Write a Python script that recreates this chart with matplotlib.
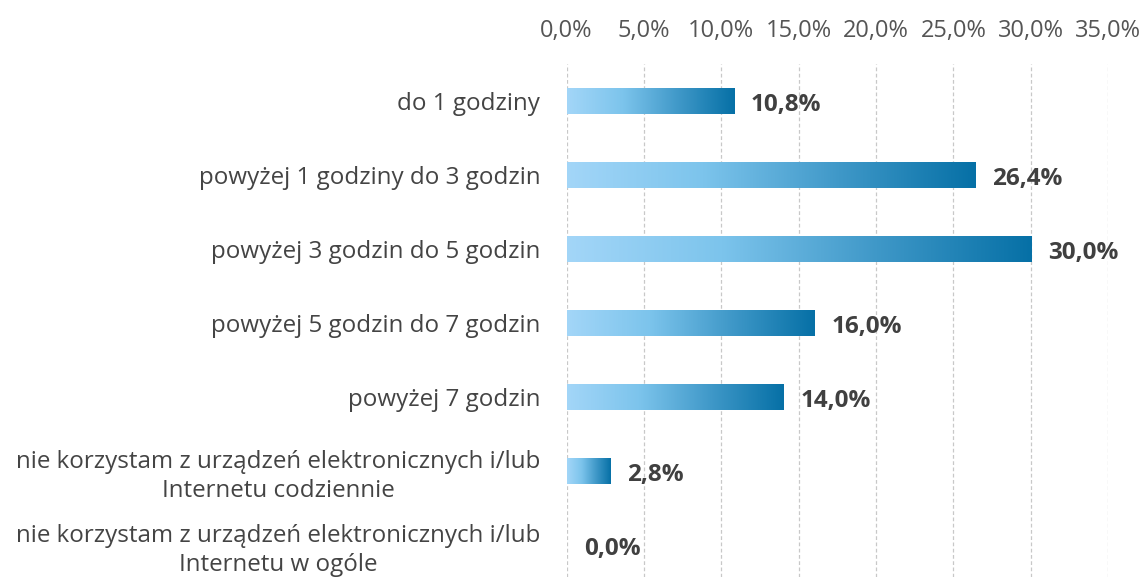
import numpy as np
import matplotlib.pyplot as plt
from matplotlib.colors import LinearSegmentedColormap

categories = [
    "do 1 godziny",
    "powyżej 1 godziny do 3 godzin",
    "powyżej 3 godzin do 5 godzin",
    "powyżej 5 godzin do 7 godzin",
    "powyżej 7 godzin",
    "nie korzystam z urządzeń elektronicznych i/lub\nInternetu codziennie",
    "nie korzystam z urządzeń elektronicznych i/lub\nInternetu w ogóle",
]
values = [10.8, 26.4, 30.0, 16.0, 14.0, 2.8, 0.0]
ticks = [0, 5, 10, 15, 20, 25, 30, 35]

plt.rcParams['font.family'] = ['Open Sans', 'DejaVu Sans']

fig = plt.figure(figsize=(11.47, 5.77), dpi=100)
ax = fig.add_axes([0.494, 0.0, 0.472, 0.889])

cmap = LinearSegmentedColormap.from_list("grad", ["#a3d6f8", "#7cc4ec", "#3f98c8", "#0670a6"])
grad = np.linspace(0, 1, 256).reshape(1, -1)

y = np.arange(len(categories))
bars = ax.barh(y, values, height=0.36, color="none", edgecolor="none")
for b, v in zip(bars, values):
    if v <= 0:
        continue
    x0, y0 = b.get_x(), b.get_y()
    im = ax.imshow(grad, cmap=cmap, aspect="auto", interpolation="bicubic",
                   extent=(x0, x0 + b.get_width(), y0 + b.get_height(), y0), zorder=2)
    im.set_clip_path(b)

for yi, v in zip(y, values):
    ax.text(v + 1.1, yi + 0.05, f"{v:.1f}%".replace(".", ","), va="center", ha="left",
            fontsize=17.5, fontweight="bold", color="#404040")

ax.set_xlim(0, 35)
ax.set_ylim(6.43, -0.5)
ax.set_xticks(ticks)
ax.set_xticklabels([f"{t:.1f}%".replace(".", ",") for t in ticks])
ax.xaxis.tick_top()
ax.tick_params(axis="x", length=0, pad=15, labelsize=17, labelcolor="#555555")
ax.set_yticks(y)
ax.set_yticklabels(categories, fontsize=17.4, color="#444444", ha="right")
ax.tick_params(axis="y", length=0, pad=19)
for lbl in ax.get_yticklabels():
    lbl.set_multialignment("center")
    lbl.set_linespacing(1.25)
ax.get_yticklabels()[-1].set_y(5.93)

ax.grid(axis="x", color="#c8c8c8", linestyle=(0, (3, 2)), linewidth=0.9)
ax.set_axisbelow(True)
for s in ax.spines.values():
    s.set_visible(False)

fig.savefig("out.png", dpi=100)
